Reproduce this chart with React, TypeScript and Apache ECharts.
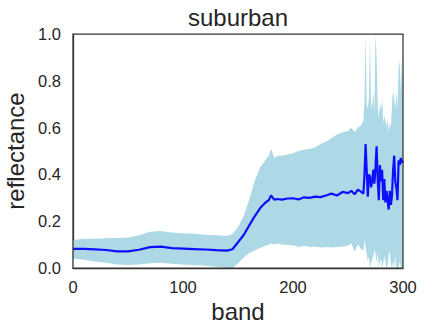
import React, { useEffect, useRef } from "react";
import * as echarts from "echarts";

const bands = [0,10,20,30,40,50,60,70,80,90,100,110,120,130,140,145,150,155,160,165,170,175,178,180,183,186,190,195,200,205,210,215,220,225,230,235,240,245,250,253,256,259,262,264,265,266,267,268,269,270,271,272,273,274,275,276,277,278,279,280,281,282,283,284,285,286,287,288,289,290,291,292,293,294,295,296,297,298,299,300];

const meanRefl = [0.082,0.082,0.08,0.077,0.071,0.071,0.078,0.089,0.091,0.085,0.083,0.081,0.079,0.076,0.074,0.08,0.11,0.14,0.18,0.22,0.255,0.28,0.29,0.31,0.292,0.295,0.292,0.297,0.298,0.293,0.302,0.3,0.305,0.303,0.31,0.318,0.31,0.325,0.32,0.33,0.315,0.335,0.325,0.318,0.4,0.53,0.42,0.305,0.4,0.39,0.345,0.37,0.42,0.36,0.43,0.52,0.38,0.29,0.44,0.37,0.42,0.29,0.38,0.28,0.33,0.29,0.25,0.33,0.27,0.31,0.42,0.48,0.37,0.34,0.29,0.46,0.44,0.47,0.45,0.46];

const upperRefl = [0.12,0.125,0.125,0.127,0.128,0.13,0.14,0.155,0.158,0.152,0.148,0.146,0.142,0.14,0.137,0.145,0.175,0.22,0.29,0.37,0.43,0.46,0.48,0.51,0.47,0.48,0.48,0.485,0.49,0.5,0.505,0.51,0.515,0.53,0.54,0.555,0.57,0.58,0.585,0.6,0.58,0.6,0.61,0.63,0.72,1.0,0.7,0.68,0.72,0.98,0.68,0.7,0.75,0.66,1.0,0.9,0.7,0.64,0.7,0.68,0.72,0.62,0.65,0.63,0.6,0.64,0.58,0.62,0.6,0.7,0.76,0.72,0.68,0.75,0.68,0.85,0.89,0.75,0.9,0.72];

const lowerRefl = [0.041,0.035,0.028,0.022,0.015,0.013,0.015,0.02,0.022,0.018,0.015,0.013,0.01,0.005,0.0,0.0,0.02,0.045,0.063,0.075,0.085,0.095,0.1,0.105,0.1,0.105,0.1,0.098,0.097,0.09,0.095,0.09,0.092,0.088,0.09,0.088,0.09,0.092,0.095,0.105,0.07,0.1,0.08,0.075,0.12,0.09,0.06,0.03,0.05,0.0,0.02,0.04,0.05,0.08,0.06,0.02,0.07,0.0,0.03,0.04,0.0,0.02,0.05,0.03,0.0,0.01,0.06,0.07,0.02,0.0,0.03,0.0,0.05,0.0,0.0,0.0,0.03,0.0,0.0,0.0];

const xTicks = [0, 100, 200, 300];
const yTicks = [0, 0.2, 0.4, 0.6, 0.8, 1.0];

const FONT = "'Liberation Sans', Arial, sans-serif";
const TEXT = "#262626";

export default function App() {
  const ref = useRef<HTMLDivElement>(null);
  useEffect(() => {
    document.body.style.margin = "0";
    if (!ref.current) return;
    const chart = echarts.init(ref.current, null, { renderer: "svg" });
    const lowerData = bands.map((b, i) => [b, lowerRefl[i]]);
    const upperData = bands.map((b, i) => [b, upperRefl[i]]);
    const meanData = bands.map((b, i) => [b, meanRefl[i]]);
    chart.setOption({
      animation: false,
      backgroundColor: "#ffffff",
      textStyle: { fontFamily: FONT },
      title: {
        text: "suburban",
        left: 238,
        textAlign: "center",
        top: 5,
        padding: 0,
        textStyle: { fontFamily: FONT, fontSize: 24, fontWeight: "normal", color: TEXT },
      },
      grid: {
        left: 73,
        top: 34,
        width: 330,
        height: 234,
        containLabel: false,
        outerBoundsMode: "none",
        show: false,
      },
      xAxis: {
        type: "value",
        min: xTicks[0],
        max: xTicks[xTicks.length - 1],
        interval: 100,
        name: "band",
        nameLocation: "middle",
        nameGap: 30,
        nameTextStyle: { fontFamily: FONT, fontSize: 24, color: TEXT },
        axisLine: { show: true, onZero: false, lineStyle: { color: "#333333", width: 1.25 } },
        axisTick: { show: false },
        splitLine: { show: false },
        axisLabel: { fontFamily: FONT, fontSize: 16.5, color: TEXT, margin: 10 },
      },
      yAxis: {
        type: "value",
        min: yTicks[0],
        max: yTicks[yTicks.length - 1],
        interval: 0.2,
        name: "reflectance",
        nameLocation: "middle",
        nameGap: 41,
        nameTextStyle: { fontFamily: FONT, fontSize: 24, color: TEXT },
        axisLine: { show: true, onZero: false, lineStyle: { color: "#333333", width: 1.25 } },
        axisTick: { show: false },
        splitLine: { show: false },
        axisLabel: {
          fontFamily: FONT,
          fontSize: 16.5,
          color: TEXT,
          margin: 12,
          formatter: (v: number) => v.toFixed(1),
        },
      },
      series: [
        {
          type: "line",
          data: upperData,
          symbol: "none",
          lineStyle: { width: 0, opacity: 0 },
          areaStyle: { color: "#add8e6", opacity: 1, origin: "start" },
          silent: true,
          z: 1,
        },
        {
          type: "line",
          data: lowerData,
          symbol: "none",
          lineStyle: { width: 0, opacity: 0 },
          areaStyle: { color: "#ffffff", opacity: 1, origin: "start" },
          silent: true,
          z: 2,
        },
        {
          type: "line",
          data: meanData,
          symbol: "none",
          lineStyle: { color: "#0f0fff", width: 2.2 },
          z: 3,
        },
      ],
      graphic: [
        {
          type: "rect",
          shape: { x: 73, y: 34, width: 330, height: 234 },
          style: { fill: "none", stroke: "#333333", lineWidth: 1.25 },
          z: 100,
          silent: true,
        },
      ],
    });
    return () => chart.dispose();
  }, []);
  return <div ref={ref} style={{ width: 425, height: 333 }} />;
}
